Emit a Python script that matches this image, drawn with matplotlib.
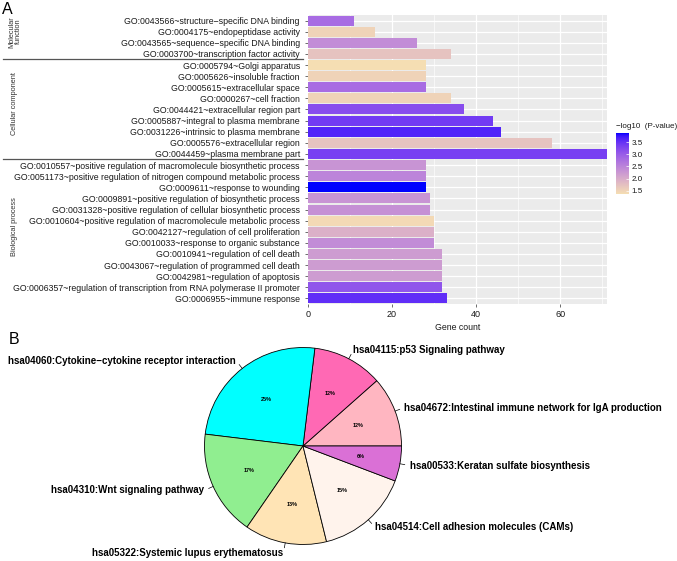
import numpy as np
import matplotlib
matplotlib.use("Agg")
import matplotlib.pyplot as plt
from matplotlib.colors import ListedColormap, Normalize
from matplotlib.transforms import blended_transform_factory
from matplotlib.lines import Line2D

plt.rcParams['font.family'] = ['Liberation Sans', 'DejaVu Sans']

# ---------------- data: panel A ----------------
go_terms = [
    "GO:0043566~structure\u2212specific DNA binding",
    "GO:0004175~endopeptidase activity",
    "GO:0043565~sequence\u2212specific DNA binding",
    "GO:0003700~transcription factor activity",
    "GO:0005794~Golgi apparatus",
    "GO:0005626~insoluble fraction",
    "GO:0005615~extracellular space",
    "GO:0000267~cell fraction",
    "GO:0044421~extracellular region part",
    "GO:0005887~integral to plasma membrane",
    "GO:0031226~intrinsic to plasma membrane",
    "GO:0005576~extracellular region",
    "GO:0044459~plasma membrane part",
    "GO:0010557~positive regulation of macromolecule biosynthetic process",
    "GO:0051173~positive regulation of nitrogen compound metabolic process",
    "GO:0009611~response to wounding",
    "GO:0009891~positive regulation of biosynthetic process",
    "GO:0031328~positive regulation of cellular biosynthetic process",
    "GO:0010604~positive regulation of macromolecule metabolic process",
    "GO:0042127~regulation of cell proliferation",
    "GO:0010033~response to organic substance",
    "GO:0010941~regulation of cell death",
    "GO:0043067~regulation of programmed cell death",
    "GO:0042981~regulation of apoptosis",
    "GO:0006357~regulation of transcription from RNA polymerase II promoter",
    "GO:0006955~immune response",
]
gene_counts = [11, 16, 26, 34, 28, 28, 28, 34, 37, 44, 46, 58, 71,
               28, 28, 28, 29, 29, 30, 30, 30, 32, 32, 32, 32, 33]
neg_log10_p = [2.8, 1.5, 2.4, 1.7, 1.36, 1.5, 2.8, 1.5, 3.2, 3.4, 3.65, 1.7, 3.35,
               2.3, 2.5, 3.88, 2.3, 2.35, 1.42, 1.95, 2.4, 2.2, 2.2, 2.2, 3.1, 3.55]
group_names = ["Molecular\nfunction", "Cellular component", "Biological process"]
group_sizes = [4, 9, 13]
x_ticks = [0, 20, 40, 60]
cbar_ticks = [1.5, 2.0, 2.5, 3.0, 3.5]

# ---------------- data: panel B ----------------
pathways = [
    "hsa04672:Intestinal immune network for IgA production",
    "hsa04115:p53 Signaling pathway",
    "hsa04060:Cytokine\u2212cytokine receptor interaction",
    "hsa04310:Wnt signaling pathway",
    "hsa05322:Systemic lupus erythematosus",
    "hsa04514:Cell adhesion molecules (CAMs)",
    "hsa00533:Keratan sulfate biosynthesis",
]
pathway_counts = [6, 6, 13, 9, 7, 8, 3]
pathway_colors = ["#FFB6C1", "#FF69B4", "#00FFFF", "#90EE90", "#FFE4B5", "#FFF3EC", "#DA70D6"]


# ---------------- Lab gradient (ggplot-like) ----------------
def _srgb_to_lin(c):
    c = np.asarray(c, float)
    return np.where(c <= 0.04045, c / 12.92, ((c + 0.055) / 1.055) ** 2.4)

def _lin_to_srgb(c):
    c = np.clip(c, 0, 1)
    return np.where(c <= 0.0031308, 12.92 * c, 1.055 * c ** (1 / 2.4) - 0.055)

M = np.array([[0.4124, 0.3576, 0.1805], [0.2126, 0.7152, 0.0722], [0.0193, 0.1192, 0.9505]])
Minv = np.linalg.inv(M)
WP = np.array([0.95047, 1.0, 1.08883])

def _f(t):
    d = 6 / 29
    return np.where(t > d ** 3, np.cbrt(t), t / (3 * d * d) + 4 / 29)

def _finv(t):
    d = 6 / 29
    return np.where(t > d, t ** 3, 3 * d * d * (t - 4 / 29))

def rgb_to_lab(rgb):
    xyz = M @ _srgb_to_lin(rgb) / WP
    fx_, fy_, fz_ = _f(xyz)
    return np.array([116 * fy_ - 16, 500 * (fx_ - fy_), 200 * (fy_ - fz_)])

def lab_to_rgb(lab):
    L_, a, b = lab
    fy_ = (L_ + 16) / 116
    fx_ = fy_ + a / 500
    fz_ = fy_ - b / 200
    xyz = np.array([_finv(fx_), _finv(fy_), _finv(fz_)]) * WP
    return _lin_to_srgb(Minv @ xyz)

low = rgb_to_lab(np.array([0xF5, 0xDE, 0xB3]) / 255)
high = rgb_to_lab(np.array([0, 0, 255]) / 255)
cols = [lab_to_rgb(low + (high - low) * t) for t in np.linspace(0, 1, 256)]
cmap = ListedColormap(np.clip(np.array(cols), 0, 1))
norm = Normalize(vmin=min(neg_log10_p), vmax=max(neg_log10_p))

# ---------------- figure ----------------
W, H = 677, 561
fig = plt.figure(figsize=(W / 100, H / 100), dpi=100)

def fx(px):
    return px / W

def fy(py):
    return 1 - py / H

# panel A axes
L, R, T, B = 307.7, 606.7, 15, 304
ax = fig.add_axes([fx(L), fy(B), fx(R - L), (B - T) / H])
ax.set_facecolor("#EBEBEB")
n = len(go_terms)
ypos = np.arange(n)
ax.set_xlim(0, 71)
ax.set_ylim(n - 0.5, -0.5)
for v in [10, 30, 50, 70]:
    ax.axvline(v, color="white", lw=0.45, zorder=0)
for v in x_ticks:
    ax.axvline(v, color="white", lw=0.9, zorder=0)
for y in ypos:
    ax.axhline(y, color="white", lw=0.9, zorder=0)
ax.barh(ypos, gene_counts, height=0.9, color=cmap(norm(neg_log10_p)), zorder=2, linewidth=0)
for s in ax.spines.values():
    s.set_visible(False)
ax.set_yticks(ypos)
ax.set_yticklabels(go_terms)
ax.set_xticks(x_ticks)
ax.set_xticklabels([str(t) for t in x_ticks])
ax.tick_params(axis="y", length=2.2, width=0.5, color="#333333",
               labelcolor="#1a1a1a", labelsize=6.3, pad=3.5)
ax.tick_params(axis="x", length=2.2, width=0.5, color="#333333",
               labelcolor="#1a1a1a", labelsize=6.5, pad=2)
ax.set_xlabel("Gene count", fontsize=6.3, color="#1a1a1a", labelpad=3)

# group separators and labels
tr = blended_transform_factory(fig.transFigure, ax.transData)
bounds = np.cumsum(group_sizes)
for b in bounds[:-1]:
    fig.add_artist(Line2D([fx(3), fx(303)], [b - 0.5, b - 0.5], transform=tr,
                          color="#555555", lw=0.9))
starts = np.concatenate([[0], bounds[:-1]])
for name, s, sz in zip(group_names, starts, group_sizes):
    fig.text(fx(15), s + sz / 2 - 1.0, name, transform=tr, rotation=90,
             ha="center", va="center", fontsize=5.3, color="#333333", linespacing=1.0)

# colorbar
cax = fig.add_axes([fx(616), fy(194), fx(13), 61 / H])
grad = np.linspace(norm.vmin, norm.vmax, 200).reshape(-1, 1)
cax.imshow(grad, aspect="auto", cmap=cmap, norm=norm, origin="lower",
           extent=[0, 1, norm.vmin, norm.vmax])
cax.set_xticks([])
cax.yaxis.tick_right()
cax.set_yticks(cbar_ticks)
cax.set_yticklabels([f"{t:.1f}" for t in cbar_ticks])
cax.tick_params(axis="y", length=2, width=0.5, color="white", direction="in",
                labelsize=5.8, labelcolor="#1a1a1a", pad=2)
for s in cax.spines.values():
    s.set_visible(False)
fig.text(fx(616), fy(127), "\u2212log10  (P-value)", fontsize=5.8, ha="left", va="center",
         color="#1a1a1a")

fig.text(fx(7), fy(10), "A", fontsize=11.5, ha="center", va="center")
fig.text(fx(14), fy(339), "B", fontsize=11.5, ha="center", va="center")

# panel B pie
cx, cy, r = 303, 446, 98.5
pax = fig.add_axes([fx(cx - r), fy(cy + r), fx(2 * r), 2 * r / H])
wedges, _ = pax.pie(pathway_counts, colors=pathway_colors, startangle=0, counterclock=True,
                    radius=1, wedgeprops=dict(edgecolor="black", linewidth=0.6))
pax.set_xlim(-1, 1)
pax.set_ylim(-1, 1)
pax.axis("off")
total = sum(pathway_counts)
cum = np.cumsum([0] + pathway_counts)
for i, (name, c) in enumerate(zip(pathways, pathway_counts)):
    mid = np.deg2rad(360 * (cum[i] + cum[i + 1]) / 2 / total)
    ca, sa = np.cos(mid), np.sin(mid)
    pax.plot([ca, 1.05 * ca], [sa, 1.05 * sa], color="black", lw=0.5, clip_on=False)
    pax.text(1.1 * ca, 1.1 * sa, name, ha="left" if ca > 0 else "right", va="center",
             fontsize=7.0, fontweight="bold", clip_on=False)
    pax.text(0.6 * ca, 0.6 * sa, f"{round(100 * c / total)}%", ha="center", va="center",
             fontsize=4.0, fontweight="bold")

fig.savefig("out.png", dpi=100)
